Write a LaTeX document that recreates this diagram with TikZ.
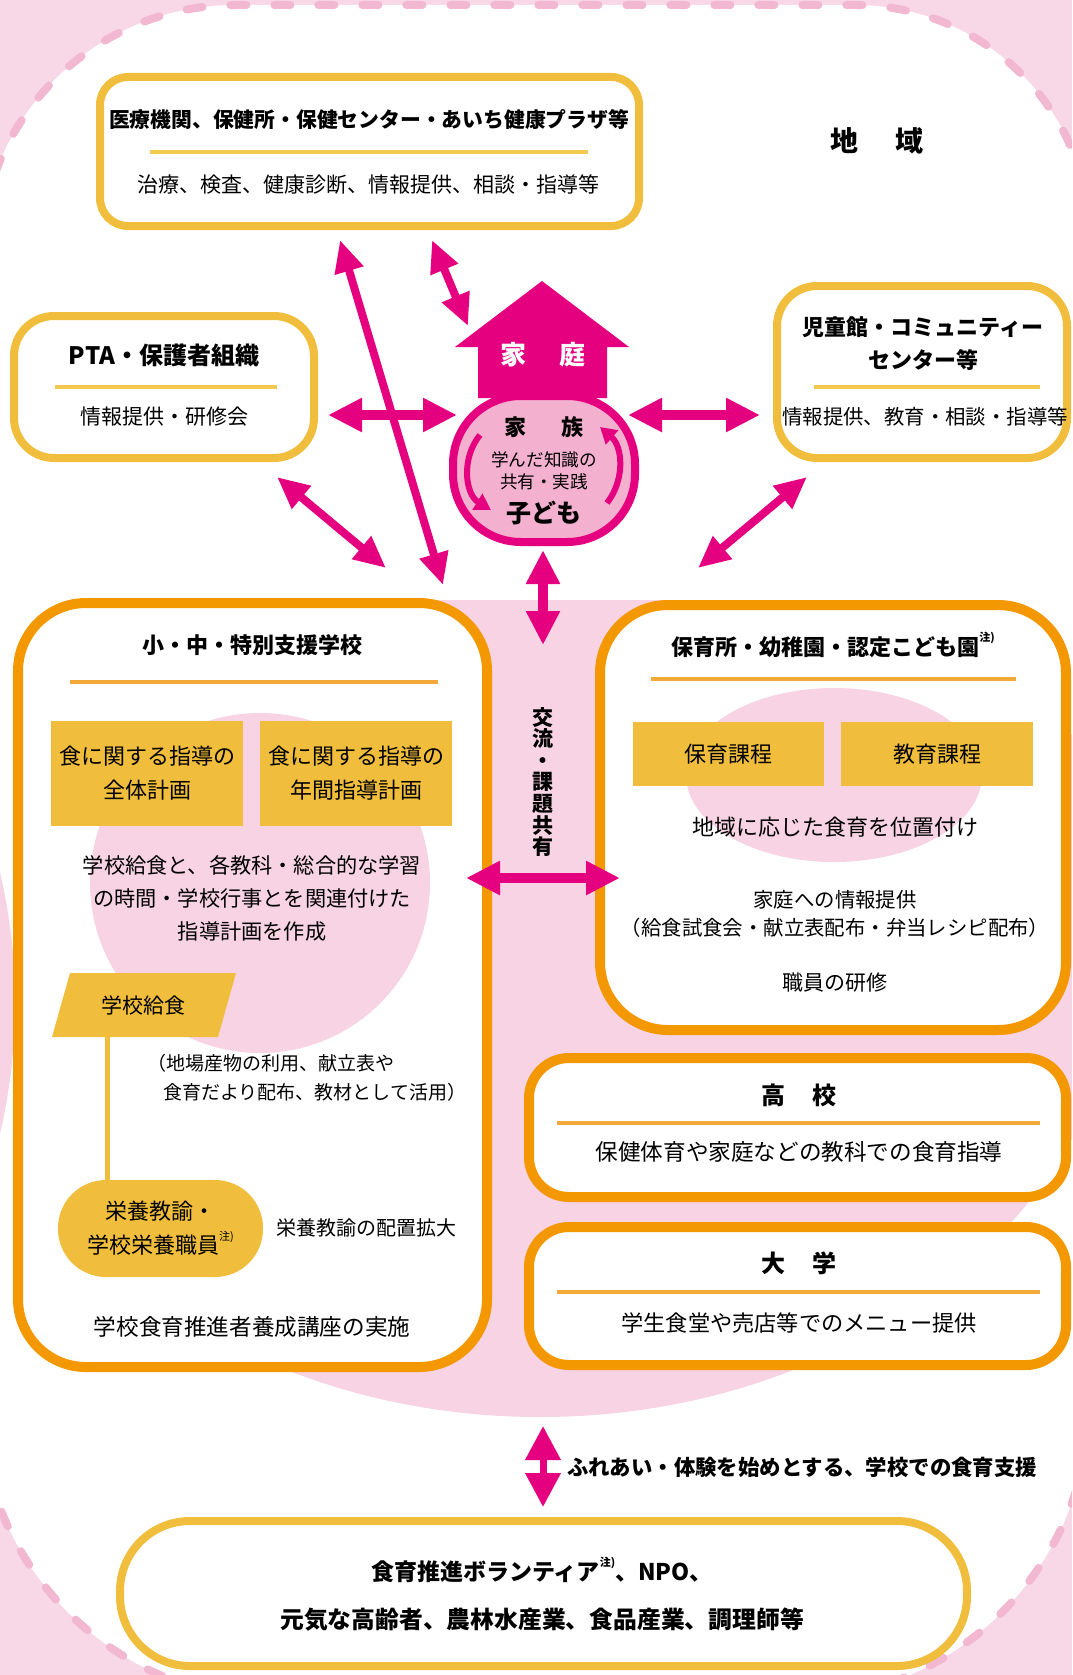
\documentclass[tikz,border=0pt]{standalone}
\usepackage{fontspec}
\setmainfont{Noto Sans CJK JP}
\usetikzlibrary{arrows.meta,shapes.geometric,calc}
\definecolor{mag}{HTML}{E4007F}
\definecolor{gold}{HTML}{F0BE3C}
\definecolor{goldline}{HTML}{F2C84E}
\definecolor{orng}{HTML}{F39800}
\definecolor{orngline}{HTML}{F2A93A}
\definecolor{bgpink}{HTML}{F8D8E6}
\definecolor{dashpink}{HTML}{F3B8D1}
\definecolor{blobpink}{HTML}{F7D3E3}
\definecolor{fampink}{HTML}{F3B0CF}
\newcommand{\chuu}{\raisebox{0.6em}{\fontsize{5.5pt}{6pt}\selectfont 注)}}
\newcommand{\fs}[2]{\fontsize{#1pt}{#2pt}\selectfont}
\tikzset{
  sz/.style 2 args={minimum width=#1*0.5pt, minimum height=#2*0.5pt},
  goldbox/.style={draw=gold, line width=4pt, fill=white, rounded corners=#1},
  orngbox/.style={draw=orng, line width=5pt, fill=white, rounded corners=#1},
  ybox/.style={fill=gold, draw=none},
  divgold/.style={draw=goldline, line width=1.6pt},
  divorng/.style={draw=orngline, line width=1.6pt},
  marrowH/.style={draw=mag, line width=5pt, {Triangle[length=17pt,width=16pt]}-{Triangle[length=17pt,width=16pt]}},
  marrowD/.style={draw=mag, line width=4pt, {Triangle[length=16pt,width=14pt]}-{Triangle[length=16pt,width=14pt]}},
  marrowV/.style={draw=mag, line width=3.5pt, {Triangle[length=17pt,width=17pt]}-{Triangle[length=17pt,width=17pt]}},
  circarrow/.style={draw=mag, line width=3pt, -{Triangle[length=8pt,width=9pt]}},
}
\begin{document}
\begin{tikzpicture}[x=0.5pt,y=-0.5pt,every node/.style={inner sep=0pt,outer sep=0pt}]
\useasboundingbox (0,0) rectangle (1072,1675);
\clip (0,0) rectangle (1072,1675);
% background
\fill[bgpink] (0,0) rectangle (1072,1675);
\filldraw[fill=white, draw=dashpink, line width=4pt, dash pattern=on 8pt off 14pt, line cap=round]
  (-20,260) arc[start angle=180,end angle=270,radius=255] -- (855,5)
  arc[start angle=270,end angle=360,radius=235] -- (1090,1400)
  arc[start angle=0,end angle=90,radius=300] -- (280,1700)
  arc[start angle=90,end angle=180,radius=300] -- cycle;
\fill[blobpink] (-556,1003) circle[radius=571];
\begin{scope}
  \clip (20,600) rectangle (1072,1675);
  \fill[blobpink] (540,937) ellipse[x radius=586, y radius=480];
\end{scope}

% boxes
\node[goldbox=14pt, sz={539}{149}] (med) at (369.5,151.5) {};
\node[goldbox=20pt, sz={300}{142}] (pta) at (164,387) {};
\node[goldbox=20pt, sz={290}{172}] (jido) at (922,372) {};
\node[orngbox=34pt, sz={469}{764}] (school) at (252.5,985) {};
\node[orngbox=34pt, sz={466}{425}] (hoiku) at (833,817.5) {};
\node[orngbox=20pt, sz={537}{139}] (koko) at (797.5,1127.5) {};
\node[orngbox=20pt, sz={537}{138}] (daigaku) at (797.5,1296) {};
\node[goldbox=35pt, sz={847}{145}] (volun) at (543.5,1593.5) {};

% inner blobs
\fill[blobpink] (260,883) circle[radius=170];
\fill[blobpink] (834,775) ellipse[x radius=148, y radius=87];

% medical
\node[font=\fs{10.4}{12}\bfseries] (medT) at (369,120) {医療機関、保健所・保健センター・あいち健康プラザ等};
\draw[divgold] (150,152) -- (588,152);
\node[font=\fs{10.5}{12}] (medS) at (368,185) {治療、検査、健康診断、情報提供、相談・指導等};
\node[font=\fs{14}{16}\bfseries] (chiiki) at (877,141) {地\hspace{1.3em}域};

% PTA
\node[font=\fs{12}{13}\bfseries] (ptaT) at (164,355) {PTA・保護者組織};
\draw[divgold] (55,387) -- (277,387);
\node[font=\fs{10.5}{12}] (ptaS) at (164,417) {情報提供・研修会};

% jido
\node[font=\fs{11}{16.5}\bfseries, align=center] (jidoT) at (923,343.5) {児童館・コミュニティー\\センター等};
\draw[divgold] (814,387) -- (1040,387);
\node[font=\fs{10.2}{12}] (jidoS) at (925,417) {情報提供、教育・相談・指導等};

% house and family
\fill[mag] (542,281) -- (629,347) -- (607,347) -- (607,398) -- (478,398) -- (478,347) -- (455,347) -- cycle;
\node[font=\fs{13}{14}\bfseries, text=white] (katei) at (543,355) {家\hspace{1.3em}庭};
\node[rectangle, rounded corners=34pt, draw=mag, line width=4pt, fill=fampink, sz={182}{146}] (kazoku) at (544,469) {};
\node[font=\fs{11}{12}\bfseries] (kazokuT) at (544,427) {家\hspace{1.6em}族};
\node[font=\fs{8.8}{11}, align=center] (kazokuM) at (544,471) {学んだ知識の\\共有・実践};
\node[font=\fs{12.5}{13}\bfseries] (kodomo) at (544,513) {子ども};
\coordinate (cl1) at (480,435); \coordinate (cl2) at (491,510);
\coordinate (cr1) at (607,503); \coordinate (cr2) at (600,427);
\draw[circarrow] (cl1) .. controls (461,458) and (465,494) .. (cl2);
\draw[circarrow] (cr1) .. controls (625,480) and (623,447) .. (cr2);

% vertical label
\node[font=\fs{10.5}{10.8}\bfseries, align=center] (koryu) at (543,782) {交\\流\\・\\課\\題\\共\\有};

% school
\node[font=\fs{11}{12}\bfseries] (schoolT) at (252,645) {小・中・特別支援学校};
\draw[divorng] (70,682) -- (438,682);
\node[ybox, sz={192}{105}, align=center, font=\fs{11}{17}] (plan1) at (147,773.5) {食に関する指導の\\全体計画};
\node[ybox, sz={192}{105}, align=center, font=\fs{11}{17}] (plan2) at (356,773.5) {食に関する指導の\\年間指導計画};
\node[font=\fs{10.6}{16.7}, align=center] (schoolP) at (252,898.5) {学校給食と、各教科・総合的な学習\\の時間・学校行事とを関連付けた\\指導計画を作成};
\fill[gold] (70,973) -- (236,973) -- (218,1037) -- (52,1037) -- cycle;
\node[font=\fs{10.5}{12}] (kyushokuT) at (143,1005) {学校給食};
\node[font=\fs{9.5}{11}, anchor=west] (chiba1) at (147,1063) {（地場産物の利用、献立表や};
\node[font=\fs{9.5}{11}, anchor=west] (chiba2) at (163,1092) {食育だより配布、教材として活用）};
\node[fill=gold, rounded corners=24pt, sz={205}{97}, align=center, font=\fs{11}{17}] (eiyo) at (160.5,1228.5) {栄養教諭・\\学校栄養職員\chuu};
\coordinate (kbot) at (107,1037);
\draw[gold, line width=2.5pt] (kbot) -- (kbot |- eiyo.north);
\node[font=\fs{10}{12}] (haichi) at (366,1228) {栄養教諭の配置拡大};
\node[font=\fs{11.3}{13}] (koza) at (252,1327) {学校食育推進者養成講座の実施};

% hoiku
\node[font=\fs{11}{12}\bfseries] (hoikuT) at (833,645) {保育所・幼稚園・認定こども園\chuu};
\draw[divorng] (651,679) -- (1016,679);
\node[ybox, sz={191}{64}, font=\fs{11}{12}] (hk1) at (728.5,754) {保育課程};
\node[ybox, sz={192}{64}, font=\fs{11}{12}] (hk2) at (937,754) {教育課程};
\node[font=\fs{11}{12}] (chiikiT) at (835,827) {地域に応じた食育を位置付け};
\node[font=\fs{10.2}{14}, align=center] (joho) at (835,914) {家庭への情報提供\\（給食試食会・献立表配布・弁当レシピ配布）};
\node[font=\fs{10.5}{12}] (kenshu) at (835,983) {職員の研修};

% koko / daigaku
\node[font=\fs{12}{13}\bfseries] (kokoT) at (799,1095) {高\hspace{1.1em}校};
\draw[divorng] (557,1123) -- (1040,1123);
\node[font=\fs{11.3}{13}] (kokoS) at (799,1152) {保健体育や家庭などの教科での食育指導};
\node[font=\fs{12}{13}\bfseries] (daiT) at (799,1263) {大\hspace{1.1em}学};
\draw[divorng] (557,1292) -- (1040,1292);
\node[font=\fs{11.1}{13}] (daiS) at (799,1323) {学生食堂や売店等でのメニュー提供};

% bottom
\node[font=\fs{10.7}{12}\bfseries, anchor=west] (fureai) at (567,1467) {ふれあい・体験を始めとする、学校での食育支援};
\node[font=\fs{11.5}{13}\bfseries] (volT1) at (542,1570) {食育推進ボランティア\chuu、NPO、};
\node[font=\fs{11.9}{13}\bfseries] (volT2) at (542,1620) {元気な高齢者、農林水産業、食品産業、調理師等};

% arrows
\coordinate (a1s) at (432,240); \coordinate (a1e) at (468,326);
\coordinate (b1s) at (340,240); \coordinate (b1e) at (443,585);
\coordinate (c1s) at (328,415); \coordinate (c1e) at (457,415);
\coordinate (d1s) at (628,415); \coordinate (d1e) at (760,415);
\coordinate (e1s) at (277,477); \coordinate (e1e) at (386,568);
\coordinate (f1s) at (807,477); \coordinate (f1e) at (698,568);
\coordinate (g1s) at (543,550); \coordinate (g1e) at (543,645);
\coordinate (h1s) at (466,878); \coordinate (h1e) at (620,878);
\coordinate (i1s) at (543,1426); \coordinate (i1e) at (543,1507);
\draw[marrowD] (a1s) -- (a1e);
\draw[marrowD] (b1s) -- (b1e);
\draw[marrowH] (c1s) -- (c1e);
\draw[marrowH] (d1s) -- (d1e);
\draw[marrowD] (e1s) -- (e1e);
\draw[marrowD] (f1s) -- (f1e);
\draw[marrowH] (g1s) -- (g1e);
\draw[marrowH] (h1s) -- (h1e);
\draw[marrowV] (i1s) -- (i1e);
\end{tikzpicture}
\end{document}
